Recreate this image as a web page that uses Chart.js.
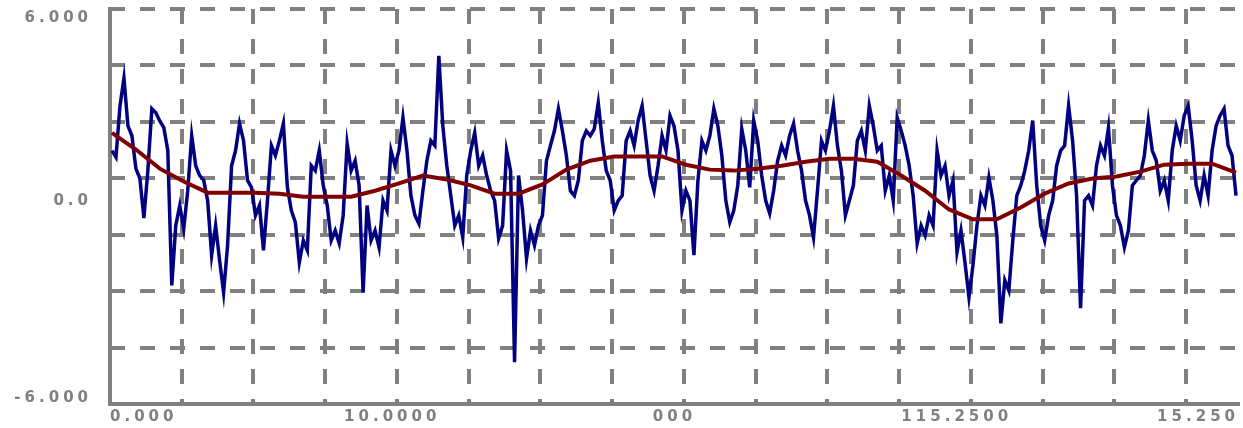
<!DOCTYPE html>
<html>
<head>
<meta charset="utf-8">
<script src="https://cdn.jsdelivr.net/npm/chart.js@4.4.1/dist/chart.umd.min.js"></script>
<style>
  html, body { margin: 0; padding: 0; background: #ffffff; overflow: hidden; }
  #wrap { width: 1243px; height: 428px; position: relative; }
</style>
</head>
<body>
<div id="wrap"><canvas id="c"></canvas></div>
<script>
// Raw signal, one sample per step
const signal = [
  1.7, 1.5, 3.05, 3.9, 2.45, 2.15, 1.15, 0.85, -0.35, 1.1,
  2.97, 2.85, 2.6, 2.4, 1.7, -2.4, -0.58, 0.03, -0.67, 0.48,
  2.15, 1.24, 0.94, 0.8, 0.18, -1.48, -0.58, -1.64, -2.61, -1.18,
  1.24, 1.7, 2.52, 2.0, 0.79, 0.58, -0.27, 0.03, -1.33, 0.18,
  1.85, 1.55, 2.0, 2.52, 0.58, -0.12, -0.48, -1.7, -1.03, -1.33,
  1.24, 1.09, 1.7, 0.64, 0.03, -1.03, -0.73, -1.12, -0.27, 1.91,
  1.09, 1.39, 0.64, -2.61, 0.03, -1.03, -0.73, -1.24, 0.18, -0.12,
  1.7, 1.24, 1.7, 2.7, 1.7, 0.33, -0.27, -0.52, 0.48, 1.39,
  2.0, 1.85, 4.58, 2.45, 1.24, 0.33, -0.58, -0.27, -0.94, 0.94,
  1.7, 2.24, 1.24, 1.55, 0.94, 0.48, 0.18, -0.97, -0.58, 1.7,
  1.09, -4.73, 0.94, -0.12, -1.58, -0.73, -1.18, -0.58, -0.27, 1.39,
  1.85, 2.3, 2.97, 2.3, 1.55, 0.48, 0.33, 0.79, 2.0, 2.3,
  2.15, 2.36, 3.15, 2.0, 1.09, 0.79, -0.12, 0.18, 0.33, 2.0,
  2.3, 1.85, 2.61, 3.06, 2.0, 0.94, 0.48, 1.24, 2.15, 1.7,
  2.76, 2.45, 1.7, -0.12, 0.48, 0.18, -1.48, 0.79, 2.0, 1.7,
  2.15, 2.97, 2.45, 1.55, 0.18, -0.48, -0.12, 0.64, 2.36, 1.7,
  0.58, 2.61, 2.0, 0.94, 0.18, -0.21, 0.48, 1.39, 1.85, 1.55,
  2.15, 2.52, 1.7, 1.09, 0.18, -0.27, -0.94, 0.48, 2.0, 1.7,
  2.3, 3.06, 1.85, 1.09, -0.27, 0.18, 0.64, 2.0, 2.3, 1.7,
  3.06, 2.45, 1.7, 1.85, 0.48, 0.94, 0.18, 2.7, 2.3, 1.85,
  1.24, 0.33, -1.12, -0.58, -0.88, -0.27, -0.58, 1.7, 0.94, 1.24,
  0.33, 0.79, -1.39, -0.73, -1.7, -2.76, -1.79, -0.58, 0.33, 0.03,
  0.88, 0.18, -0.88, -3.55, -2.24, -2.55, -1.03, 0.33, 0.64, 1.09,
  1.7, 2.61, 0.64, -0.58, -1.03, -0.27, 0.18, 1.24, 1.7, 1.85,
  3.06, 2.0, 0.33, -3.09, 0.18, 0.33, 0.03, 1.24, 1.85, 1.55,
  2.39, 0.64, -0.27, -0.58, -1.24, -0.73, 0.64, 0.79, 0.94, 1.55,
  2.61, 1.7, 1.39, 0.48, 0.79, 0.18, 1.7, 2.45, 2.0, 2.76,
  3.06, 2.0, 0.64, 0.18, 0.94, 0.33, 1.7, 2.45, 2.76, 2.97,
  1.85, 1.55, 0.33
];

// Smoothed trend, one value every `smoothStep` samples
const smoothStep = 6;
const smooth = [
  2.24, 1.73, 1.15, 0.76, 0.42, 0.42, 0.42, 0.39, 0.30, 0.30,
  0.30, 0.48, 0.70, 0.94, 0.82, 0.64, 0.39, 0.39, 0.67, 1.12,
  1.39, 1.52, 1.52, 1.52, 1.27, 1.12, 1.09, 1.15, 1.24, 1.36,
  1.45, 1.45, 1.36, 0.94, 0.48, -0.09, -0.39, -0.39, -0.03, 0.39,
  0.70, 0.85, 0.91, 1.06, 1.27, 1.30, 1.30, 1.03
];

// Axis labels
const xTickLabels = ['0.000', '10.0000', '000', '115.2500', '15.250'];
const xTickFractions = [0, 0.25, 0.5, 0.75, 1];
const yTickValues = [6, 0, -6];
const yTickLabels = ['6.000', '0.0', '-6.000'];

// Axis ranges and grid spacing
const yMin = -6, yMax = 6, yGridDivisions = 7;
const xMin = -0.5, xMax = 282.75, xGridStep = 18;

const GREY = '#808080';
const LABEL_FONT = 'bold 15px "DejaVu Sans"';

// wide, blocky label lettering
const spacingPlugin = {
  id: 'labelSpacing',
  beforeDraw(chart) { chart.ctx.letterSpacing = '4px'; }
};

// dashed grid: horizontal lines at the y ticks, vertical lines at the xg ticks
const dashedGridPlugin = {
  id: 'dashedGrid',
  beforeDatasetsDraw(chart, args, opts) {
    const { ctx, chartArea: a } = chart;
    ctx.save();
    ctx.strokeStyle = opts.color;
    ctx.lineWidth = opts.width;
    ctx.setLineDash(opts.dash);
    ctx.lineDashOffset = 0;
    ctx.beginPath();
    chart.scales.y.ticks.forEach(t => {
      const py = Math.round(chart.scales.y.getPixelForValue(t.value));
      ctx.moveTo(a.left, py);
      ctx.lineTo(a.right, py);
    });
    chart.scales.xg.ticks.forEach(t => {
      const px = Math.round(chart.scales.xg.getPixelForValue(t.value));
      ctx.moveTo(px, a.top);
      ctx.lineTo(px, a.bottom);
    });
    ctx.stroke();
    ctx.restore();
  }
};

// value labels on the left axis: top, middle and bottom
const yLabelPlugin = {
  id: 'yLabels',
  afterDraw(chart, args, opts) {
    const ctx = chart.ctx;
    const s = chart.scales.y;
    ctx.save();
    ctx.letterSpacing = '4px';
    ctx.font = LABEL_FONT;
    ctx.fillStyle = GREY;
    ctx.textAlign = 'right';
    ctx.textBaseline = 'middle';
    yTickValues.forEach((v, i) => {
      ctx.fillText(yTickLabels[i], opts.right, s.getPixelForValue(v) + opts.shift[i]);
    });
    ctx.restore();
  }
};

new Chart(document.getElementById('c'), {
  type: 'line',
  data: {
    datasets: [
      {
        label: 'trend',
        data: smooth.map((v, k) => ({ x: k * smoothStep, y: v })),
        borderColor: '#800000',
        borderWidth: 4,
        pointRadius: 0,
        tension: 0,
        fill: false
      },
      {
        label: 'signal',
        data: signal.map((v, i) => ({ x: i, y: v })),
        borderColor: '#000080',
        borderWidth: 3.5,
        pointRadius: 0,
        tension: 0,
        fill: false
      }
    ]
  },
  options: {
    responsive: true,
    maintainAspectRatio: false,
    animation: false,
    devicePixelRatio: 1,
    layout: { padding: { top: 9, left: 0, right: 0, bottom: 0 } },
    plugins: {
      legend: { display: false },
      tooltip: { enabled: false },
      yLabels: { right: 92, shift: [9, -5.5, -6] },
      dashedGrid: { color: GREY, width: 4, dash: [15, 15] }
    },
    scales: {
      x: {
        type: 'linear',
        position: 'bottom',
        min: xMin,
        max: xMax,
        grid: { display: false, drawTicks: false },
        border: { display: true, color: GREY, width: 4 },
        afterBuildTicks: (s) => {
          s.ticks = xTickFractions.map(f => ({ value: xMin + f * (xMax - xMin) }));
        },
        afterFit: (s) => { s.height = 24; },
        ticks: {
          align: 'inner',
          autoSkip: false,
          maxRotation: 0,
          padding: 4,
          color: GREY,
          font: { family: 'DejaVu Sans', weight: 'bold', size: 15 },
          callback: (v, i) => xTickLabels[i]
        }
      },
      xg: {
        type: 'linear',
        position: 'bottom',
        min: xMin,
        max: xMax,
        grid: { display: false, drawTicks: false },
        border: { display: false },
        afterBuildTicks: (s) => {
          const t = [];
          for (let v = xMin; v <= xMax; v += xGridStep) t.push({ value: v });
          s.ticks = t;
        },
        afterFit: (s) => { s.height = 0; },
        ticks: { display: false }
      },
      y: {
        type: 'linear',
        position: 'left',
        min: yMin,
        max: yMax,
        grid: { display: false, drawTicks: false },
        border: { display: true, color: GREY, width: 4 },
        afterBuildTicks: (s) => {
          const t = [];
          for (let k = 0; k <= yGridDivisions; k++) t.push({ value: yMin + k * (yMax - yMin) / yGridDivisions });
          s.ticks = t;
        },
        afterFit: (s) => { s.width = 110; },
        ticks: { display: false }
      }
    }
  },
  plugins: [spacingPlugin, dashedGridPlugin, yLabelPlugin]
});
</script>
</body>
</html>
